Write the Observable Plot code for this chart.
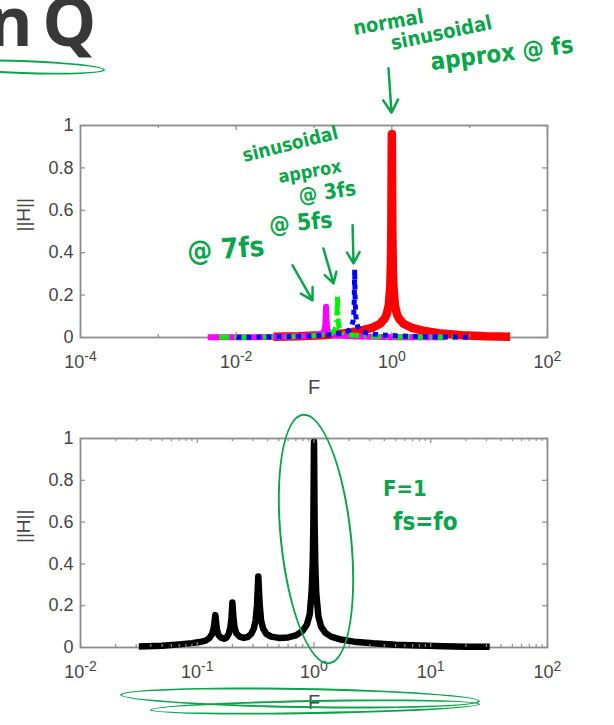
<!DOCTYPE html>
<html><head><meta charset="utf-8">
<script src="https://cdn.jsdelivr.net/npm/d3@7"></script>
<script src="https://cdn.jsdelivr.net/npm/@observablehq/plot@0.6"></script>
<style>
html,body{margin:0;padding:0;background:#fff;}
#wrap{position:relative;width:614px;height:725px;overflow:hidden;font-family:"Liberation Sans",Arial,sans-serif;}
.panel{position:absolute;left:0;}
.note{position:absolute;color:#0aa54a;font-family:"DejaVu Sans Condensed","DejaVu Sans",sans-serif;font-weight:600;white-space:nowrap;line-height:1;transform-origin:left bottom;}
.ring{position:absolute;border:2.5px solid #0aa54a;border-radius:50%;box-sizing:border-box;}
#title{position:absolute;left:-12px;top:-14px;font-family:"Open Sans",sans-serif;font-weight:700;font-size:68px;line-height:1;color:#383838;letter-spacing:-2px;word-spacing:-4px;white-space:nowrap;}
</style></head>
<body>
<div id="wrap"><div id="title">n Q</div></div>
<script>
// ---- data: [F, ||H||] ----
const redCurve = [[0.0302,0.004],[0.0631,0.006],[0.126,0.011],[0.251,0.02],[0.398,0.032],[0.55,0.045],[0.708,0.065],[0.794,0.085],[0.851,0.105],[0.912,0.15],[0.955,0.24],[0.973,0.35],[0.986,0.52],[0.993,0.75],[1.0,0.96],[1.007,0.75],[1.014,0.52],[1.028,0.35],[1.047,0.24],[1.096,0.15],[1.175,0.105],[1.259,0.085],[1.413,0.065],[1.82,0.045],[2.512,0.032],[3.98,0.02],[7.94,0.011],[15.85,0.006],[33.1,0.004]];
const blueCurve = [[0.01007,0.0013],[0.021,0.002],[0.042,0.0037],[0.0837,0.0067],[0.1327,0.0107],[0.1833,0.015],[0.236,0.0217],[0.2647,0.0283],[0.2837,0.035],[0.304,0.05],[0.3183,0.08],[0.3243,0.117],[0.3287,0.173],[0.331,0.25],[0.3333,0.32],[0.3356,0.25],[0.338,0.173],[0.3427,0.117],[0.349,0.08],[0.3653,0.05],[0.3917,0.035],[0.4197,0.0283],[0.471,0.0217],[0.6067,0.015],[0.837,0.0107],[1.327,0.0067],[2.647,0.0037],[5.283,0.002],[11.03,0.0013]];
const greenCurve = [[0.00604,0.0008],[0.01262,0.0013],[0.0252,0.0023],[0.0502,0.0042],[0.0796,0.0067],[0.11,0.0094],[0.1416,0.0135],[0.1588,0.0177],[0.1702,0.0219],[0.1824,0.031],[0.191,0.05],[0.1946,0.073],[0.1972,0.108],[0.1986,0.156],[0.2,0.2],[0.2014,0.156],[0.2028,0.108],[0.2056,0.073],[0.2094,0.05],[0.2192,0.031],[0.235,0.0219],[0.2518,0.0177],[0.2826,0.0135],[0.364,0.0094],[0.5024,0.0067],[0.796,0.0042],[1.588,0.0023],[3.17,0.0013],[6.62,0.0008]];
const magentaCurve = [[0.00431,0.0006],[0.00901,0.0009],[0.018,0.0017],[0.0359,0.003],[0.0569,0.0048],[0.0786,0.0068],[0.1011,0.0098],[0.1134,0.0128],[0.1216,0.0159],[0.1303,0.0227],[0.1364,0.0363],[0.139,0.053],[0.1409,0.0785],[0.1419,0.113],[0.1429,0.145],[0.1439,0.113],[0.1449,0.0785],[0.1469,0.053],[0.1496,0.0363],[0.1566,0.0227],[0.1679,0.0159],[0.1799,0.0128],[0.2019,0.0098],[0.26,0.0068],[0.3589,0.0048],[0.5686,0.003],[1.134,0.0017],[2.264,0.0009],[4.729,0.0006]];
const blackCurve = [[0.0316,0.005],[0.05,0.008],[0.07,0.015],[0.09,0.021],[0.105,0.026],[0.118,0.033],[0.127,0.045],[0.134,0.065],[0.138,0.09],[0.1405,0.12],[0.1429,0.155],[0.1452,0.12],[0.1475,0.085],[0.152,0.06],[0.16,0.047],[0.17,0.042],[0.178,0.047],[0.186,0.065],[0.192,0.095],[0.1965,0.14],[0.2,0.215],[0.2035,0.15],[0.208,0.1],[0.216,0.068],[0.23,0.052],[0.25,0.046],[0.27,0.05],[0.29,0.065],[0.305,0.09],[0.316,0.13],[0.325,0.2],[0.3333,0.34],[0.342,0.21],[0.352,0.13],[0.367,0.09],[0.39,0.065],[0.43,0.052],[0.5,0.046],[0.6,0.048],[0.7,0.058],[0.8,0.08],[0.87,0.11],[0.92,0.16],[0.955,0.27],[0.975,0.4],[0.988,0.6],[0.994,0.8],[1.0,0.985],[1.006,0.8],[1.012,0.6],[1.025,0.4],[1.045,0.26],[1.09,0.15],[1.15,0.1],[1.25,0.07],[1.4,0.052],[1.7,0.038],[2.2,0.028],[3.2,0.02],[5,0.013],[8,0.009],[13,0.006],[20,0.004],[32,0.003]];

const topXTicks = [1e-4, 1e-2, 1, 1e2];
const topXLabels = ["10^-4", "10^-2", "10^0", "10^2"];
const bottomXTicks = [1e-2, 1e-1, 1, 1e1, 1e2];
const bottomXLabels = ["10^-2", "10^-1", "10^0", "10^1", "10^2"];
const yTicks = [0, 0.2, 0.4, 0.6, 0.8, 1];
const yTickLabels = ["0", "0.2", "0.4", "0.6", "0.8", "1"];
const xLabel = "F";
const yLabel = "||H||";

// handwritten annotation arrows in data coordinates of the top panel
const arrowNotes = [
  {x1: 0.906, y1: 1.27, x2: 0.99, y2: 1.06},
  {x1: 0.313, y1: 0.53, x2: 0.322, y2: 0.35},
  {x1: 0.132, y1: 0.42, x2: 0.178, y2: 0.255},
  {x1: 0.053, y1: 0.34, x2: 0.0957, y2: 0.175}
];

const GREEN = "#0aa54a";
const AX = "#8c8c8c";
const TXT = "#454545";

function panel({height, marginTop, marginBottom, domain, major, majorLabels, minor, curves, notes = [], labelDy}) {
  const W = 614, mL = 80, mR = 67;
  const fw = W - mL - mR, fh = height - marginTop - marginBottom;
  const marks = [Plot.frame({stroke: AX, strokeWidth: 1.8})];
  for (const c of curves) {
    marks.push(Plot.line(c.data, {x: d => d[0], y: d => d[1], stroke: c.color, strokeWidth: c.width,
      strokeDasharray: c.dash, strokeLinejoin: "round", strokeLinecap: c.cap || "butt"}));
  }
  const tickStyle = {stroke: AX, strokeWidth: 1.2};
  marks.push(
    Plot.tickX(major, {x: d => d, insetTop: fh - 5, ...tickStyle}),
    Plot.tickX(major, {x: d => d, insetBottom: fh - 5, ...tickStyle}),
    Plot.tickX(minor, {x: d => d, insetTop: fh - 3, ...tickStyle}),
    Plot.tickX(minor, {x: d => d, insetBottom: fh - 3, ...tickStyle}),
    Plot.tickY(yTicks, {y: d => d, insetRight: fw - 5, ...tickStyle}),
    Plot.tickY(yTicks, {y: d => d, insetLeft: fw - 5, ...tickStyle}),
    Plot.axisX({ticks: major, tickSize: 0, tickPadding: 18, tickFormat: d => majorLabels[major.indexOf(d)], label: null, fill: TXT}),
    Plot.axisY({ticks: yTicks, tickSize: 0, tickPadding: 7, tickFormat: d => yTickLabels[yTicks.indexOf(d)], label: null, fill: TXT}),
    Plot.text([xLabel], {text: d => d, frameAnchor: "bottom", dy: labelDy, fontSize: 20, fill: TXT, lineAnchor: "middle"}),
    Plot.text([yLabel], {text: d => d, frameAnchor: "left", dx: -57, rotate: -90, fontSize: 19, fill: TXT, lineAnchor: "middle"}),
    ...notes
  );
  const svg = Plot.plot({
    width: W, height, marginLeft: mL, marginRight: mR, marginTop, marginBottom,
    x: {type: "log", domain},
    y: {domain: [0, 1]},
    style: {fontFamily: "'Liberation Sans', Arial, Helvetica, sans-serif", fontSize: "18px", background: "transparent", overflow: "visible"},
    marks
  });
  // MATLAB-style raised exponents
  d3.select(svg).selectAll("[aria-label='x-axis tick label'] text").each(function () {
    const m = this.textContent.match(/^10\^(.*)$/);
    if (!m) return;
    const t = d3.select(this);
    t.text(null);
    t.append("tspan").text("10");
    t.append("tspan").attr("dy", "-0.55em").attr("font-size", "0.78em").text(m[1]);
  });
  return svg;
}

const topMinor = [1e-3, 1e-1, 1e1];
const bottomMinor = [0.01, 0.1, 1, 10].flatMap(b => [2,3,4,5,6,7,8,9].map(m => b * m));

const topPlot = panel({
  height: 410, marginTop: 125, marginBottom: 73, domain: [1e-4, 1e2],
  major: topXTicks, majorLabels: topXLabels, minor: topMinor, labelDy: 50,
  curves: [
    {data: redCurve, color: "#ff0000", width: 8.5},
    {data: magentaCurve, color: "#ff00ff", width: 6},
    {data: greenCurve, color: "#00ee00", width: 5, dash: "10,5,2,5"},
    {data: blueCurve, color: "#0000ff", width: 5, dash: "5,5"}
  ],
  notes: [Plot.arrow(arrowNotes, {x1: "x1", y1: "y1", x2: "x2", y2: "y2", stroke: GREEN, strokeWidth: 2.5, headLength: 11, bend: 0})]
});
const bottomPlot = panel({
  height: 315, marginTop: 28, marginBottom: 78, domain: [1e-2, 1e2],
  major: bottomXTicks, majorLabels: bottomXLabels, minor: bottomMinor, labelDy: 55,
  curves: [{data: blackCurve, color: "#000000", width: 6.5}]
});

const wrap = document.getElementById("wrap");
topPlot.classList.add("panel"); topPlot.style.top = "0px";
bottomPlot.classList.add("panel"); bottomPlot.style.top = "410px";
wrap.appendChild(topPlot);
wrap.appendChild(bottomPlot);

// handwritten notes (decoration overlay)
const noteTexts = [
  {t: "normal", l: 355, tp: 18, s: 20, r: -10},
  {t: "sinusoidal", l: 393, tp: 33, s: 20, r: -12},
  {t: "approx @ fs", l: 432, tp: 50, s: 24, r: -7},
  {t: "sinusoidal", l: 245, tp: 146, s: 19, r: -14},
  {t: "approx", l: 280, tp: 168, s: 18, r: -10},
  {t: "@ 3fs", l: 300, tp: 186, s: 21, r: -8},
  {t: "@ 5fs", l: 270, tp: 214, s: 23, r: -5},
  {t: "@ 7fs", l: 188, tp: 238, s: 28, r: -4},
  {t: "F=1", l: 383, tp: 478, s: 22, r: 0},
  {t: "fs=fo", l: 393, tp: 510, s: 24, r: 0}
];
for (const n of noteTexts) {
  const d = document.createElement("div");
  d.className = "note";
  d.textContent = n.t;
  d.style.left = n.l + "px"; d.style.top = n.tp + "px";
  d.style.fontSize = n.s + "px";
  d.style.transform = `rotate(${n.r}deg)`;
  wrap.appendChild(d);
}
const rings = [
  {l: 280, tp: 413, w: 72, h: 252, r: -6},
  {l: 120, tp: 688, w: 360, h: 20, r: 1},
  {l: 150, tp: 700, w: 330, h: 14, r: -1},
  {l: -60, tp: 60, w: 165, h: 14, r: 2}
];
for (const g of rings) {
  const d = document.createElement("div");
  d.className = "ring";
  Object.assign(d.style, {left: g.l + "px", top: g.tp + "px", width: g.w + "px", height: g.h + "px", transform: `rotate(${g.r}deg)`});
  wrap.appendChild(d);
}
</script>
</body></html>
